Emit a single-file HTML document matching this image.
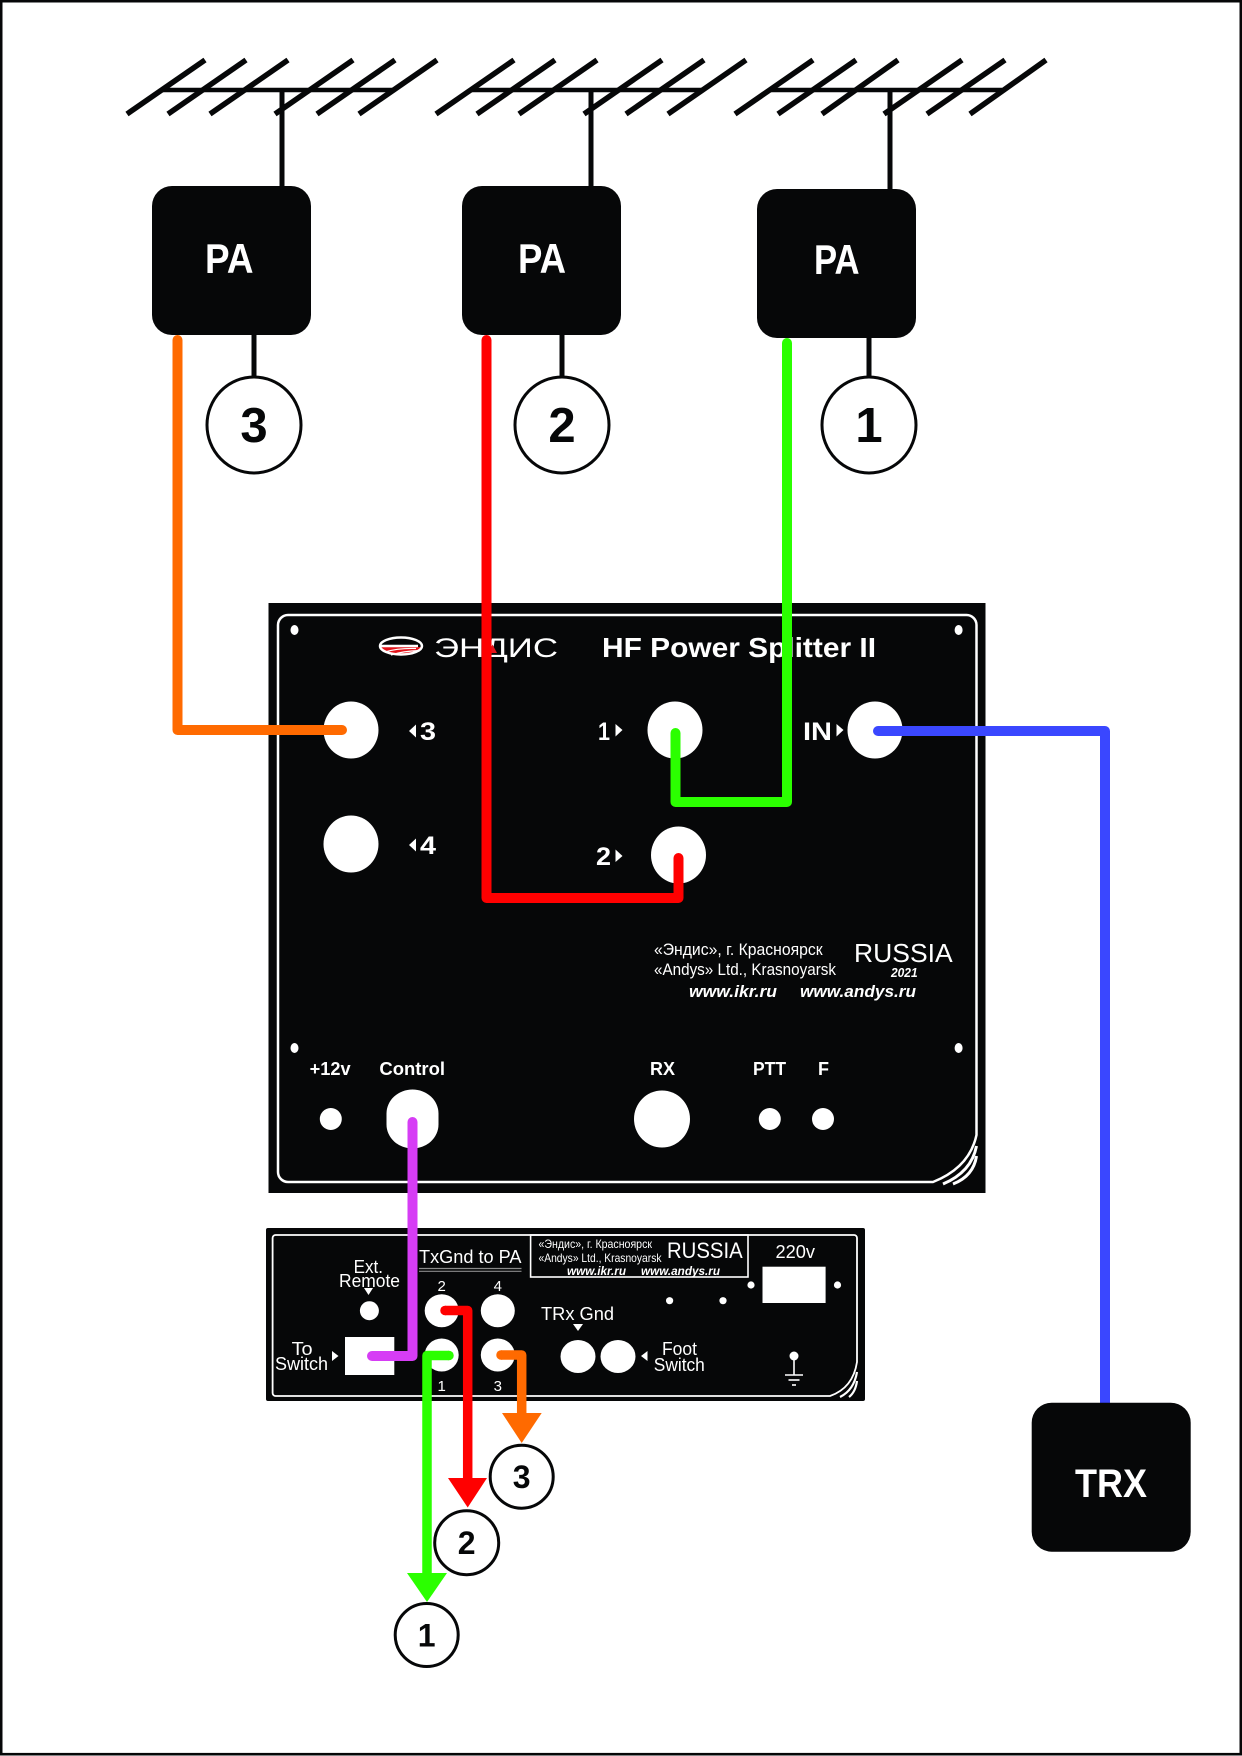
<!DOCTYPE html>
<html><head><meta charset="utf-8">
<style>
html,body{margin:0;padding:0;background:#fff;}
svg{display:block;}
text{font-family:"Liberation Sans","DejaVu Sans",sans-serif;}
</style></head><body>
<svg width="1242" height="1756" viewBox="0 0 1242 1756" xmlns="http://www.w3.org/2000/svg">
<rect x="0" y="0" width="1242" height="1756" fill="#fff"/>
<rect x="1.2" y="1.2" width="1239.6" height="1753" fill="none" stroke="#060708" stroke-width="2.6"/>

<!-- Antennas -->
<g stroke="#060708" stroke-width="5.5" fill="none" transform="translate(282,0)">
<line x1="-120" y1="90" x2="112" y2="90" stroke-width="4.5"/>
<line x1="-155" y1="114" x2="-77" y2="60"/><line x1="-114" y1="114" x2="-36" y2="60"/>
<line x1="-72" y1="114" x2="6" y2="60"/><line x1="-7" y1="114" x2="71" y2="60"/>
<line x1="35" y1="114" x2="113" y2="60"/><line x1="77" y1="114" x2="155" y2="60"/>
<line x1="0" y1="90" x2="0" y2="190" stroke-width="5"/>
</g>
<g stroke="#060708" stroke-width="5.5" fill="none" transform="translate(591,0)">
<line x1="-120" y1="90" x2="112" y2="90" stroke-width="4.5"/>
<line x1="-155" y1="114" x2="-77" y2="60"/><line x1="-114" y1="114" x2="-36" y2="60"/>
<line x1="-72" y1="114" x2="6" y2="60"/><line x1="-7" y1="114" x2="71" y2="60"/>
<line x1="35" y1="114" x2="113" y2="60"/><line x1="77" y1="114" x2="155" y2="60"/>
<line x1="0" y1="90" x2="0" y2="190" stroke-width="5"/>
</g>
<g stroke="#060708" stroke-width="5.5" fill="none" transform="translate(890,0)">
<line x1="-120" y1="90" x2="112" y2="90" stroke-width="4.5"/>
<line x1="-155" y1="114" x2="-77" y2="60"/><line x1="-112" y1="114" x2="-34" y2="60"/>
<line x1="-68" y1="114" x2="8" y2="60"/><line x1="-6" y1="114" x2="72" y2="60"/>
<line x1="37" y1="114" x2="115" y2="60"/><line x1="80" y1="114" x2="156" y2="60"/>
<line x1="0" y1="90" x2="0" y2="192" stroke-width="5"/>
</g>

<!-- PA to circle connectors -->
<g stroke="#060708" stroke-width="5">
<line x1="254" y1="330" x2="254" y2="379"/>
<line x1="562" y1="330" x2="562" y2="379"/>
<line x1="869" y1="330" x2="869" y2="379"/>
</g>
<!-- numbered circles top -->
<g fill="#fff" stroke="#060708" stroke-width="3">
<ellipse cx="254" cy="425" rx="47" ry="48"/>
<ellipse cx="562" cy="425" rx="47" ry="48"/>
<ellipse cx="869" cy="425" rx="47" ry="48"/>
</g>
<g fill="#060708" font-weight="bold" font-size="49" text-anchor="middle">
<text x="254" y="442">3</text>
<text x="562" y="442">2</text>
<text x="869" y="442">1</text>
</g>

<!-- Main panel -->
<rect x="268.5" y="603" width="717" height="590" fill="#060708"/>
<path d="M278,625 A10,10 0 0 1 288,615 H966.5 A10,10 0 0 1 976.5,625 V1135 Q969.5,1167.5 933,1182 H288 A10,10 0 0 1 278,1172 Z" fill="none" stroke="#fff" stroke-width="2.5"/>
<path d="M976.5,1146 Q971.5,1172 943,1184" fill="none" stroke="#fff" stroke-width="3"/>
<path d="M976.5,1156 Q973.5,1176 953,1184" fill="none" stroke="#fff" stroke-width="3"/>
<g fill="#fff">
<ellipse cx="294.5" cy="630" rx="4" ry="5"/>
<ellipse cx="958.6" cy="630" rx="4" ry="5"/>
<ellipse cx="294.5" cy="1048" rx="4" ry="5"/>
<ellipse cx="958.6" cy="1048" rx="4" ry="5"/>
</g>
<!-- logo -->
<path d="M380,647 H422 A21,8.5 0 0 1 380,647 Z" fill="#e3141b"/>
<ellipse cx="401" cy="646" rx="21" ry="8.5" fill="none" stroke="#fff" stroke-width="2.5"/>
<line x1="380" y1="646" x2="418" y2="646" stroke="#fff" stroke-width="2.5"/>
<path d="M385,652 Q398,648 416,648.5" stroke="#fff" stroke-width="1.2" fill="none"/>
<path d="M391,655 Q403,651 420,650.5" stroke="#fff" stroke-width="1.2" fill="none"/>
<text x="434" y="657" font-size="27" fill="#fff" textLength="124" lengthAdjust="spacingAndGlyphs">ЭНДИС</text>
<polygon points="492.5,644.5 488,653 497,653" fill="#e3141b"/>
<text x="602" y="657" font-size="28" font-weight="bold" fill="#fff" textLength="274" lengthAdjust="spacingAndGlyphs">HF Power Splitter II</text>

<!-- ports -->
<g fill="#fff">
<ellipse cx="351" cy="730" rx="27.5" ry="28.5"/>
<ellipse cx="351" cy="844" rx="27.5" ry="28.5"/>
<ellipse cx="675" cy="730" rx="27.5" ry="28.5"/>
<ellipse cx="678.5" cy="855" rx="27.5" ry="28.5"/>
<ellipse cx="875" cy="730" rx="27.5" ry="28.5"/>
<polygon points="409,731 416,724.5 416,737.5"/>
<polygon points="409,845 416,838.5 416,851.5"/>
<polygon points="615.5,724 615.5,736.5 622.5,730"/>
<polygon points="615.5,849.5 615.5,862 622.5,856"/>
<polygon points="836.5,724 836.5,736.5 843.5,730"/>
</g>
<g fill="#fff" font-weight="bold" font-size="25">
<text x="420" y="740" textLength="16" lengthAdjust="spacingAndGlyphs">3</text>
<text x="420" y="854" textLength="16" lengthAdjust="spacingAndGlyphs">4</text>
<text x="598" y="740" textLength="12" lengthAdjust="spacingAndGlyphs">1</text>
<text x="596" y="865" textLength="15" lengthAdjust="spacingAndGlyphs">2</text>
<text x="803" y="740" textLength="29" lengthAdjust="spacingAndGlyphs">IN</text>
</g>

<!-- info text main -->
<g fill="#fff">
<text x="654" y="955" font-size="16.5" textLength="168.6" lengthAdjust="spacingAndGlyphs">«Эндис», г. Красноярск</text>
<text x="654" y="975" font-size="16.5" textLength="182" lengthAdjust="spacingAndGlyphs">«Andys» Ltd., Krasnoyarsk</text>
<text x="689" y="997" font-size="17" font-weight="bold" font-style="italic" textLength="88" lengthAdjust="spacingAndGlyphs">www.ikr.ru</text>
<text x="800" y="997" font-size="17" font-weight="bold" font-style="italic" textLength="116" lengthAdjust="spacingAndGlyphs">www.andys.ru</text>
<text x="854" y="962" font-size="26" textLength="98.7" lengthAdjust="spacingAndGlyphs">RUSSIA</text>
<text x="891" y="977" font-size="12.5" font-weight="bold" font-style="italic" textLength="26.6" lengthAdjust="spacingAndGlyphs">2021</text>
</g>
<g fill="#fff" font-weight="bold" font-size="18">
<text x="309.6" y="1075" textLength="41" lengthAdjust="spacingAndGlyphs">+12v</text>
<text x="379.4" y="1075" textLength="65.6" lengthAdjust="spacingAndGlyphs">Control</text>
<text x="650" y="1075" textLength="25" lengthAdjust="spacingAndGlyphs">RX</text>
<text x="753" y="1075" textLength="33" lengthAdjust="spacingAndGlyphs">PTT</text>
<text x="818" y="1075" textLength="11" lengthAdjust="spacingAndGlyphs">F</text>
</g>
<g fill="#fff">
<ellipse cx="330.8" cy="1119" rx="11" ry="11"/>
<rect x="386.5" y="1089.5" width="52" height="59" rx="26" ry="24"/>
<ellipse cx="662" cy="1119" rx="28" ry="28.5"/>
<ellipse cx="769.8" cy="1119" rx="11" ry="11"/>
<ellipse cx="823" cy="1119" rx="11" ry="11"/>
</g>

<!-- Switch box -->
<rect x="266" y="1228" width="599" height="173" rx="2" fill="#060708"/>
<path d="M272.6,1238 A3,3 0 0 1 275.6,1235 H854 A3,3 0 0 1 857,1238 V1362 Q853,1388 830,1396 H275.6 A3,3 0 0 1 272.6,1393 Z" fill="none" stroke="#fff" stroke-width="1.8"/>
<path d="M857,1372 Q854,1390 840,1397" fill="none" stroke="#fff" stroke-width="2.2"/>
<path d="M857,1381 Q855.5,1392 849,1397" fill="none" stroke="#fff" stroke-width="2.2"/>
<rect x="530.6" y="1235" width="217.4" height="42" fill="none" stroke="#fff" stroke-width="1.6"/>
<g fill="#fff" font-size="18">
<text x="419" y="1263" textLength="102.5" lengthAdjust="spacingAndGlyphs">TxGnd to PA</text>
<text x="353.6" y="1273" textLength="29.4" lengthAdjust="spacingAndGlyphs">Ext.</text>
<text x="339" y="1287" textLength="61" lengthAdjust="spacingAndGlyphs">Remote</text>
<text x="291.6" y="1355" textLength="21" lengthAdjust="spacingAndGlyphs">To</text>
<text x="275" y="1370" textLength="53" lengthAdjust="spacingAndGlyphs">Switch</text>
<text x="541" y="1320" textLength="73" lengthAdjust="spacingAndGlyphs">TRx Gnd</text>
<text x="662" y="1355" textLength="35" lengthAdjust="spacingAndGlyphs">Foot</text>
<text x="653.8" y="1371" textLength="51" lengthAdjust="spacingAndGlyphs">Switch</text>
<text x="775.5" y="1258" textLength="39.5" lengthAdjust="spacingAndGlyphs">220v</text>
</g>
<g fill="#fff" font-size="15" text-anchor="middle">
<text x="441.7" y="1291">2</text>
<text x="497.8" y="1291">4</text>
<text x="441.7" y="1391">1</text>
<text x="497.8" y="1391">3</text>
</g>
<line x1="419" y1="1268.5" x2="521.5" y2="1268.5" stroke="#8a8a8a" stroke-width="1.2"/>
<line x1="419" y1="1271.3" x2="521.5" y2="1271.3" stroke="#8a8a8a" stroke-width="1.2"/>
<g fill="#fff">
<text x="538.5" y="1248" font-size="12" textLength="113.5" lengthAdjust="spacingAndGlyphs">«Эндис», г. Красноярск</text>
<text x="538.5" y="1262" font-size="12" textLength="123" lengthAdjust="spacingAndGlyphs">«Andys» Ltd., Krasnoyarsk</text>
<text x="667" y="1258" font-size="22" textLength="75.7" lengthAdjust="spacingAndGlyphs">RUSSIA</text>
<text x="567" y="1275" font-size="11.5" font-weight="bold" font-style="italic" textLength="59" lengthAdjust="spacingAndGlyphs">www.ikr.ru</text>
<text x="641" y="1275" font-size="11.5" font-weight="bold" font-style="italic" textLength="79" lengthAdjust="spacingAndGlyphs">www.andys.ru</text>
<polygon points="364,1288 373,1288 368.5,1295"/>
<ellipse cx="369.4" cy="1310.7" rx="9.5" ry="9.5"/>
<polygon points="332,1351 332,1361 338.5,1356"/>
<rect x="345" y="1337" width="49.3" height="38"/>
<ellipse cx="441.7" cy="1310.7" rx="17" ry="16.5"/>
<ellipse cx="497.8" cy="1310.7" rx="17" ry="16.5"/>
<ellipse cx="441.7" cy="1355" rx="17" ry="16.5"/>
<ellipse cx="497.8" cy="1355" rx="17" ry="16.5"/>
<polygon points="573,1324 583,1324 578,1331"/>
<ellipse cx="578" cy="1356.5" rx="17.5" ry="16.5"/>
<ellipse cx="618" cy="1356.5" rx="17.5" ry="16.5"/>
<polygon points="641,1356 647.5,1351 647.5,1361"/>
<rect x="762.5" y="1266.7" width="63.1" height="36.3"/>
<circle cx="751" cy="1285" r="3.6"/>
<circle cx="837.5" cy="1285" r="3.6"/>
<circle cx="669.6" cy="1300.7" r="3.6"/>
<circle cx="723" cy="1300.7" r="3.6"/>
<circle cx="794" cy="1356" r="4.5"/>
</g>
<g stroke="#fff" stroke-width="1.6">
<line x1="794" y1="1356" x2="794" y2="1375"/>
<line x1="785" y1="1375" x2="803" y2="1375"/>
<line x1="788.5" y1="1380" x2="799.5" y2="1380"/>
<line x1="792" y1="1385" x2="796" y2="1385"/>
</g>

<!-- colored cables -->
<g fill="none" stroke-width="10" stroke-linejoin="round" stroke-linecap="round">
<path d="M177.5,340 V730 H342" stroke="#ff6a00"/>
<path d="M486.5,340 V898 H678.5 V858" stroke="#ff0000"/>
<path d="M787,343 V802 H675.5 V733" stroke="#2bff00"/>
<path d="M878,731 H1105 V1408" stroke="#3a47ff"/>
<path d="M412.5,1122 V1356 H372" stroke="#d63df5"/>
</g>
<g fill="none" stroke-width="9.5" stroke-linejoin="round">
<path d="M445,1310.5 H467.7 V1480" stroke="#ff0000" stroke-linecap="butt"/>
<path d="M449,1355.5 H427 V1575" stroke="#2bff00" stroke-linecap="butt"/>
<path d="M501,1355 H521.7 V1415" stroke="#ff6a00" stroke-linecap="butt"/>
</g>
<circle cx="445" cy="1310.5" r="4.75" fill="#ff0000"/>
<circle cx="449" cy="1355.5" r="4.75" fill="#2bff00"/>
<circle cx="501" cy="1355" r="4.75" fill="#ff6a00"/>
<polygon points="448,1478 487,1478 467.7,1507.5" fill="#ff0000"/>
<polygon points="407,1573 447,1573 427,1602" fill="#2bff00"/>
<polygon points="502,1413 541.7,1413 521.7,1443" fill="#ff6a00"/>

<!-- bottom numbered circles -->
<g fill="#fff" stroke="#060708" stroke-width="3">
<circle cx="521.7" cy="1476.7" r="31.5"/>
<circle cx="466.7" cy="1542.7" r="32"/>
<circle cx="426.7" cy="1635" r="31.5"/>
</g>
<g fill="#060708" font-weight="bold" font-size="32" text-anchor="middle">
<text x="521.7" y="1488.2">3</text>
<text x="466.7" y="1554.2">2</text>
<text x="426.7" y="1646.5">1</text>
</g>

<!-- PA boxes -->
<g fill="#060708">
<rect x="152" y="186" width="159" height="149" rx="20"/>
<rect x="462" y="186" width="159" height="149" rx="20"/>
<rect x="757" y="189" width="159" height="149" rx="20"/>
<rect x="1031.7" y="1402.7" width="159" height="149" rx="20"/>
</g>
<g fill="#fff" font-weight="bold" font-size="42">
<text x="205" y="273" textLength="48.5" lengthAdjust="spacingAndGlyphs">PA</text>
<text x="518" y="273" textLength="48" lengthAdjust="spacingAndGlyphs">PA</text>
<text x="814" y="274" textLength="45.6" lengthAdjust="spacingAndGlyphs">PA</text>
<text x="1075" y="1497" font-size="40" textLength="72" lengthAdjust="spacingAndGlyphs">TRX</text>
</g>
</svg>
</body></html>
